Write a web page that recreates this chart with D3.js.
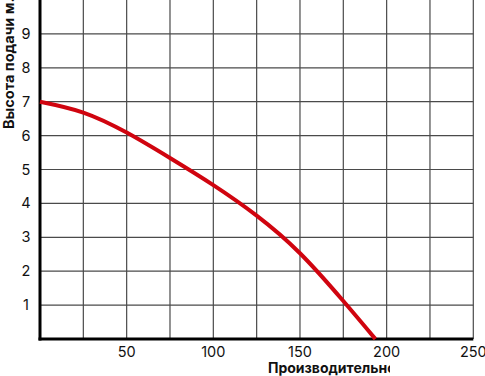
<!DOCTYPE html>
<html>
<head>
<meta charset="utf-8">
<script src="https://cdn.jsdelivr.net/npm/d3@7"></script>
<style>
  body { margin: 0; background: #fff; }
  svg { display: block; }
  .tick-label { font-family: Inter, "Noto Sans", sans-serif; font-size: 14.5px; fill: #111; }
  .title { font-family: Inter, "Noto Sans", sans-serif; font-size: 14px; font-weight: 700; fill: #111; }
</style>
</head>
<body>
<svg id="chart" width="485" height="376"></svg>
<script>
// flow (x) and head (y)
var flow = [0, 25, 50, 75, 100, 125, 150, 175, 193.5];
var head = [7.0, 6.68, 6.09, 5.34, 4.54, 3.64, 2.53, 1.12, 0];
var xTicks = [50, 100, 150, 200, 250];
var yTicks = [1, 2, 3, 4, 5, 6, 7, 8, 9];
var xTitle = "Производительность";
var yTitle = "Высота подачи м.";

var margin = { top: 0, left: 40 },
  w = 433.3,
  h = 339;

var svg = d3.select("#chart");
var g = svg.append("g")
  .attr("transform", "translate(" + margin.left + "," + margin.top + ")");

var xScale = d3.scaleLinear().domain([0, 250]).range([0, w]);
var yScale = d3.scaleLinear().domain([0, 10]).range([h, 0]);

// grid every 25 / every 1
g.selectAll(".vgrid").data(d3.range(25, 251, 25)).enter()
  .append("line")
  .attr("x1", d => xScale(d)).attr("x2", d => xScale(d))
  .attr("y1", 0).attr("y2", h)
  .attr("stroke", "#4a4a4a").attr("stroke-width", 1.2);

g.selectAll(".hgrid").data(d3.range(1, 10)).enter()
  .append("line")
  .attr("x1", 0).attr("x2", w)
  .attr("y1", d => yScale(d)).attr("y2", d => yScale(d))
  .attr("stroke", "#4a4a4a").attr("stroke-width", 1.2);

// axes lines
g.append("line").attr("x1", 0).attr("x2", 0).attr("y1", 0).attr("y2", h + 1.5)
  .attr("stroke", "#000").attr("stroke-width", 3);
g.append("line").attr("x1", -1.5).attr("x2", w).attr("y1", h).attr("y2", h)
  .attr("stroke", "#000").attr("stroke-width", 3);

// tick labels
g.selectAll(".xl").data(xTicks).enter()
  .append("text").attr("class", "tick-label")
  .attr("x", d => xScale(d)).attr("y", h + 18)
  .attr("text-anchor", "middle")
  .text(d => d);

g.selectAll(".yl").data(yTicks).enter()
  .append("text").attr("class", "tick-label")
  .attr("x", -14).attr("y", d => yScale(d) + 5)
  .attr("text-anchor", "middle")
  .text(d => d);

// curve
var line = d3.line()
  .x((d, i) => xScale(flow[i]))
  .y(d => yScale(d))
  .curve(d3.curveNatural);

g.append("path").datum(head)
  .attr("d", line)
  .attr("fill", "none")
  .attr("stroke", "#d0040f")
  .attr("stroke-width", 4);

// titles (clipped like the original)
svg.append("clipPath").attr("id", "xclip")
  .append("rect").attr("x", 0).attr("y", 340).attr("width", 390).attr("height", 36);

svg.append("text").attr("class", "title")
  .attr("clip-path", "url(#xclip)")
  .attr("x", 268).attr("y", 373)
  .text(xTitle);

svg.append("text").attr("class", "title")
  .attr("transform", "translate(13.5,129) rotate(-90)")
  .style("font-size", "14.5px")
  .text(yTitle);
</script>
</body>
</html>
